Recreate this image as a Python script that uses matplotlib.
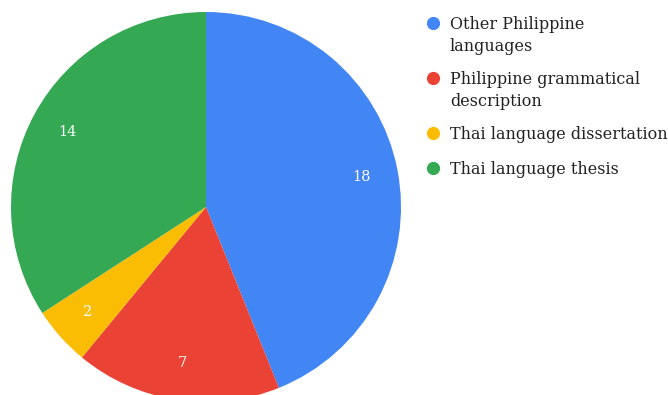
import matplotlib
matplotlib.use("Agg")
import matplotlib.pyplot as plt

categories = ["Other Philippine\nlanguages", "Philippine grammatical\ndescription",
              "Thai language dissertation", "Thai language thesis"]
values = [18, 7, 2, 14]
colors = ["#4285f4", "#ea4335", "#fbbc04", "#34a853"]

W, H = 668, 395
fig = plt.figure(figsize=(W / 100, H / 100), dpi=100)
ax = fig.add_axes([0, 0, 1, 1])

ax.pie(values, colors=colors, startangle=90, counterclock=False,
       center=(206, H - 207), radius=195, frame=True,
       autopct=lambda p: f"{round(p * sum(values) / 100)}", pctdistance=0.81,
       wedgeprops=dict(linewidth=0),
       textprops=dict(color="white", fontsize=10.5, family="DejaVu Serif"))

ax.set_xlim(0, W)
ax.set_ylim(0, H)
ax.set_aspect("equal")
ax.axis("off")

# legend drawn by hand to the right of the pie
marker_y = [23, 78, 133, 168]
line_gap = 22
for label, color, y in zip(categories, colors, marker_y):
    ax.plot([433], [H - y], marker="o", markersize=9.5, color=color,
            markeredgewidth=0, clip_on=False)
    for i, line in enumerate(label.split("\n")):
        ax.text(450, H - (y + 6 + i * line_gap), line, fontsize=11.5,
                family="DejaVu Serif", color="#222222", va="baseline", ha="left")

fig.savefig("out.png", dpi=100)
